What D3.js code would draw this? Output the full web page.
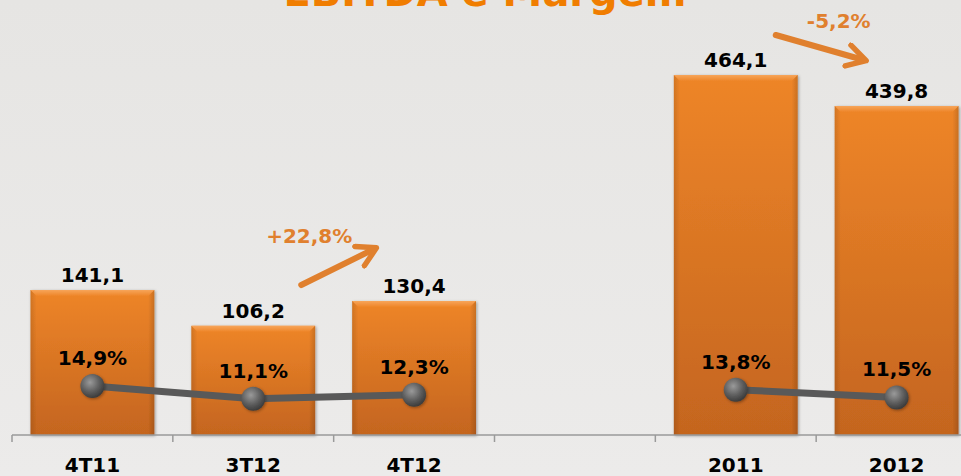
<!DOCTYPE html>
<html>
<head>
<meta charset="utf-8">
<script src="https://cdn.jsdelivr.net/npm/d3@7"></script>
<style>
  body { margin: 0; background: #e9e8e6; }
  svg { display: block; font-family: "DejaVu Sans", Verdana, sans-serif; font-weight: bold; }
</style>
</head>
<body>
<svg width="961" height="476"></svg>
<script>
// data
var categories = ['4T11', '3T12', '4T12', '', '2011', '2012'];
var ebitda = [141.1, 106.2, 130.4, null, 464.1, 439.8];
var ebitdaLabels = ['141,1', '106,2', '130,4', '', '464,1', '439,8'];
var margin = [14.9, 11.1, 12.3, null, 13.8, 11.5];
var marginLabels = ['14,9%', '11,1%', '12,3%', '', '13,8%', '11,5%'];
var quarterly = ['4T11', '3T12', '4T12'];
var annual = ['2011', '2012'];
var variations = [
    {text: '+22,8%', from: '3T12', to: '4T12'},
    {text: '-5,2%', from: '2011', to: '2012'}
];

var svg = d3.select('svg');
var W = 961, H = 476;
var baseY = 435;

// background
var defs = svg.append('defs');
var bg = defs.append('linearGradient').attr('id', 'bg').attr('x1', 0).attr('y1', 0).attr('x2', 0).attr('y2', 1);
bg.append('stop').attr('offset', '0%').attr('stop-color', '#e6e5e3');
bg.append('stop').attr('offset', '100%').attr('stop-color', '#ecebea');
svg.append('rect').attr('width', W).attr('height', H).attr('fill', 'url(#bg)');

// bar gradient (vertical) + side shading
var barGrad = defs.append('linearGradient').attr('id', 'barGrad').attr('x1', 0).attr('y1', 0).attr('x2', 0).attr('y2', 1);
barGrad.append('stop').attr('offset', '0%').attr('stop-color', '#ee8528');
barGrad.append('stop').attr('offset', '100%').attr('stop-color', '#c4651f');
var sideGrad = defs.append('linearGradient').attr('id', 'sideGrad').attr('x1', 0).attr('y1', 0).attr('x2', 1).attr('y2', 0);
sideGrad.append('stop').attr('offset', '0%').attr('stop-color', '#000').attr('stop-opacity', 0.12);
sideGrad.append('stop').attr('offset', '5%').attr('stop-color', '#000').attr('stop-opacity', 0);
sideGrad.append('stop').attr('offset', '95%').attr('stop-color', '#000').attr('stop-opacity', 0);
sideGrad.append('stop').attr('offset', '100%').attr('stop-color', '#000').attr('stop-opacity', 0.15);
var topGrad = defs.append('linearGradient').attr('id', 'topGrad').attr('x1', 0).attr('y1', 0).attr('x2', 0).attr('y2', 1);
topGrad.append('stop').attr('offset', '0%').attr('stop-color', '#f7a55a');
topGrad.append('stop').attr('offset', '100%').attr('stop-color', '#ee8528');

var ball = defs.append('radialGradient').attr('id', 'ball').attr('cx', '40%').attr('cy', '35%').attr('r', '65%');
ball.append('stop').attr('offset', '0%').attr('stop-color', '#9a9a9a');
ball.append('stop').attr('offset', '60%').attr('stop-color', '#5e5e5e');
ball.append('stop').attr('offset', '100%').attr('stop-color', '#3c3c3c');

var shadow = defs.append('filter').attr('id', 'shadow').attr('x', '-20%').attr('y', '-20%').attr('width', '140%').attr('height', '140%');
shadow.append('feDropShadow').attr('dx', 1).attr('dy', 1).attr('stdDeviation', 1.5).attr('flood-opacity', 0.35);

// title (cut off at top like the slide)
svg.append('text')
    .attr('x', 485).attr('y', 6)
    .attr('text-anchor', 'middle')
    .attr('font-size', 40)
    .attr('fill', '#f07d00')
    .text('EBITDA e Margem');

// scales
var x = d3.scaleBand().domain(categories).range([12, 977]);
var yQ = d3.scaleLinear().domain([0, 141.1]).range([baseY, 290]);
var yA = d3.scaleLinear().domain([182, 464.1]).range([baseY, 75]);
var yM = d3.scaleLinear().domain([0, 14.9]).range([baseY + 1, 386]);
var barW = x.bandwidth() * 0.77;

function yFor(cat, v) { return annual.indexOf(cat) >= 0 ? yA(v) : yQ(v); }

var data = categories.map(function(c, i) {
    return {cat: c, value: ebitda[i], label: ebitdaLabels[i], m: margin[i], mLabel: marginLabels[i]};
}).filter(function(d) { return d.value != null; });

// bars
var barG = svg.selectAll('.bar').data(data).enter().append('g').attr('class', 'bar')
    .attr('filter', 'url(#shadow)');
barG.append('rect')
    .attr('x', function(d) { return x(d.cat) + (x.bandwidth() - barW) / 2; })
    .attr('y', function(d) { return yFor(d.cat, d.value); })
    .attr('width', barW)
    .attr('height', function(d) { return baseY - yFor(d.cat, d.value); })
    .attr('fill', 'url(#barGrad)');
barG.append('rect')
    .attr('x', function(d) { return x(d.cat) + (x.bandwidth() - barW) / 2; })
    .attr('y', function(d) { return yFor(d.cat, d.value); })
    .attr('width', barW)
    .attr('height', function(d) { return baseY - yFor(d.cat, d.value); })
    .attr('fill', 'url(#sideGrad)');
barG.append('path')
    .attr('d', function(d) {
        var x0 = x(d.cat) + (x.bandwidth() - barW) / 2, y0 = yFor(d.cat, d.value);
        return 'M' + x0 + ',' + y0 + 'H' + (x0 + barW) + 'L' + (x0 + barW - 6) + ',' + (y0 + 6) + 'H' + (x0 + 6) + 'Z';
    })
    .attr('fill', 'url(#topGrad)');

// value labels
svg.selectAll('.vlabel').data(data).enter().append('text')
    .attr('class', 'vlabel')
    .attr('x', function(d) { return x(d.cat) + x.bandwidth() / 2; })
    .attr('y', function(d) { return yFor(d.cat, d.value) - 8; })
    .attr('text-anchor', 'middle')
    .attr('font-size', 20)
    .attr('fill', '#000')
    .text(function(d) { return d.label; });

// axis
var axisG = svg.append('g');
axisG.append('line').attr('x1', 12).attr('x2', W).attr('y1', baseY).attr('y2', baseY)
    .attr('stroke', '#9a9a9a').attr('stroke-width', 1.5);
axisG.selectAll('.tick').data(categories).enter().append('line')
    .attr('x1', function(d) { return x(d); }).attr('x2', function(d) { return x(d); })
    .attr('y1', baseY).attr('y2', baseY + 7)
    .attr('stroke', '#9a9a9a').attr('stroke-width', 1.5);
axisG.selectAll('.cat').data(categories).enter().append('text')
    .attr('x', function(d) { return x(d) + x.bandwidth() / 2; })
    .attr('y', 472)
    .attr('text-anchor', 'middle')
    .attr('font-size', 20)
    .attr('fill', '#000')
    .text(function(d) { return d; });

// margin lines
var line = d3.line()
    .x(function(d) { return x(d.cat) + x.bandwidth() / 2; })
    .y(function(d) { return yM(d.m); });
[quarterly, annual].forEach(function(group) {
    var pts = data.filter(function(d) { return group.indexOf(d.cat) >= 0; });
    svg.append('path').datum(pts)
        .attr('d', line)
        .attr('fill', 'none')
        .attr('stroke', '#595959')
        .attr('stroke-width', 7);
});
svg.selectAll('.dot').data(data).enter().append('circle')
    .attr('cx', function(d) { return x(d.cat) + x.bandwidth() / 2; })
    .attr('cy', function(d) { return yM(d.m); })
    .attr('r', 12)
    .attr('fill', 'url(#ball)')
    .attr('filter', 'url(#shadow)');
svg.selectAll('.mlabel').data(data).enter().append('text')
    .attr('x', function(d) { return x(d.cat) + x.bandwidth() / 2; })
    .attr('y', function(d) { return yM(d.m) - 21; })
    .attr('text-anchor', 'middle')
    .attr('font-size', 20)
    .attr('fill', '#000')
    .text(function(d) { return d.mLabel; });

// variation arrows
var arrowColor = '#e0802e';
defs.append('marker').attr('id', 'head')
    .attr('viewBox', '0 0 10 10').attr('refX', 7).attr('refY', 5)
    .attr('markerWidth', 4.5).attr('markerHeight', 4.5).attr('orient', 'auto')
    .append('path').attr('d', 'M1,1 L8,5 L1,9').attr('fill', 'none')
    .attr('stroke', arrowColor).attr('stroke-width', 2).attr('stroke-linecap', 'round').attr('stroke-linejoin', 'round');

variations.forEach(function(v) {
    var up = v.text.charAt(0) === '+';
    var x0 = x(v.from) + x.bandwidth() / 2, x1 = x(v.to) + x.bandwidth() / 2;
    var a, b, tx, ty;
    if (up) {
        a = [x0 + 48, 285]; b = [x1 - 40, 249];
        tx = x0 + 56; ty = 243;
    } else {
        a = [x0 + 40, 35]; b = [x1 - 33, 60];
        tx = x0 + 103; ty = 28;
    }
    svg.append('line')
        .attr('x1', a[0]).attr('y1', a[1]).attr('x2', b[0]).attr('y2', b[1])
        .attr('stroke', arrowColor).attr('stroke-width', 6).attr('stroke-linecap', 'round')
        .attr('marker-end', 'url(#head)');
    svg.append('text')
        .attr('x', tx).attr('y', ty)
        .attr('text-anchor', 'middle')
        .attr('font-size', 20)
        .attr('fill', arrowColor)
        .text(v.text);
});
</script>
</body>
</html>
